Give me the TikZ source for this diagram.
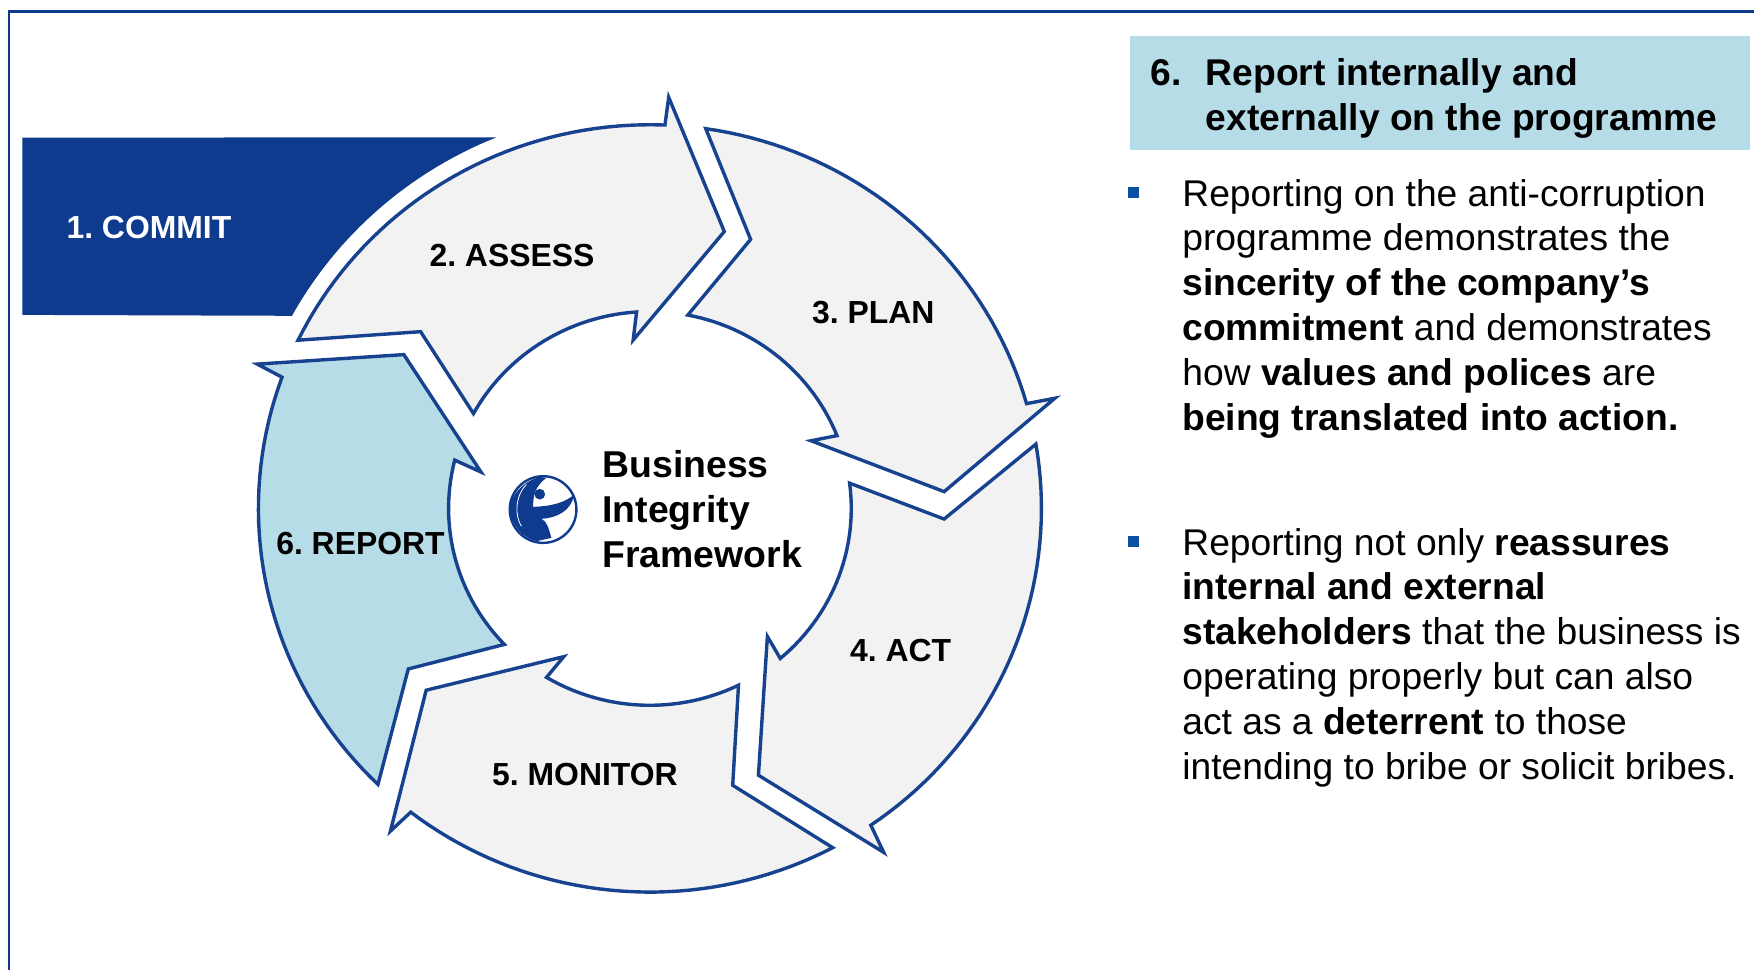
\documentclass[tikz,border=0pt]{standalone}
\usepackage{fontspec}
\setmainfont{Liberation Sans}
\definecolor{navy}{HTML}{0E3B8E}
\definecolor{edgeblue}{HTML}{17428F}
\definecolor{lightgrey}{HTML}{F2F2F2}
\definecolor{paleblue}{HTML}{B6DCE7}
\definecolor{bulletblue}{HTML}{0B4EA2}
\tikzset{
  arrowshape/.style={draw=edgeblue,line width=1.7pt,line join=miter,miter limit=12},
  greyarrow/.style={arrowshape,fill=lightgrey},
  bluearrow/.style={arrowshape,fill=paleblue},
  lab/.style={anchor=base west,inner sep=0pt,outer sep=0pt,font=\fontsize{15.95}{18}\selectfont\bfseries},
  bigbold/.style={anchor=base west,inner sep=0pt,outer sep=0pt,font=\fontsize{18.7}{22}\selectfont\bfseries},
  headbold/.style={anchor=base west,inner sep=0pt,outer sep=0pt,font=\fontsize{18.62}{22}\selectfont\bfseries},
  bodyline/.style={anchor=base west,inner sep=0pt,outer sep=0pt,font=\fontsize{18.6}{22}\selectfont},
}
\begin{document}
\frenchspacing
\begin{tikzpicture}[x=0.55931pt,y=-0.55931pt]
\useasboundingbox (0,0) rectangle (1568,867.2);
% frame
\draw[navy,line width=1.4pt] (8,867.2) -- (8,10) -- (1568,10);
% commit block
\fill[navy] (20,123) -- plot[domain=247.9:208.75,samples=30] ({581+365*cos(\x)},{454.5+358*sin(\x)}) -- (20,281.5) -- cycle;
% arrows
\path[greyarrow] plot[domain=206:272.2,samples=40] ({581+350*cos(\x)},{454.5+343*sin(\x)}) -- (597.8,87) -- (647.5,207) -- (566,304) -- plot[domain=266.2:208.8,samples=30] ({581+180*cos(\x)},{454.5+176*sin(\x)}) -- (376,296.5) -- cycle;
\path[greyarrow] plot[domain=278.2:344.15,samples=40] ({581+350*cos(\x)},{454.5+343*sin(\x)}) -- (943,356) -- (844,439.5) -- (725,394) -- plot[domain=338.3:280.85,samples=30] ({581+180*cos(\x)},{454.5+176*sin(\x)}) -- (671,214) -- cycle;
\path[greyarrow] plot[domain=-9.65:55.65,samples=40] ({581+350*cos(\x)},{454.5+343*sin(\x)}) -- (790,762) -- (678,693) -- (686,569) -- plot[domain=49.65:-7.37,samples=30] ({581+180*cos(\x)},{454.5+176*sin(\x)}) -- (844,464) -- cycle;
\path[greyarrow] plot[domain=62.16:127.66,samples=40] ({581+350*cos(\x)},{454.5+343*sin(\x)}) -- (349,743) -- (381,617) -- (504,587) -- plot[domain=120.9:63.9,samples=30] ({581+180*cos(\x)},{454.5+176*sin(\x)}) -- (655,702) -- cycle;
\path[bluearrow] plot[domain=134:200,samples=40] ({581+350*cos(\x)},{454.5+343*sin(\x)}) -- (230,325.5) -- (361,317) -- (430,422) -- plot[domain=194.2:136.3,samples=30] ({581+180*cos(\x)},{454.5+176*sin(\x)}) -- (365,598) -- cycle;
% labels
\node[lab,text=white] (commit) at (59.5,213) {1. COMMIT};
\node[lab] (assess) at (384,238) {2. ASSESS};
\node[lab] (plan) at (726,289) {3. PLAN};
\node[lab] (act) at (760,591) {4. ACT};
\node[lab] (monitor) at (440,702) {5. MONITOR};
\node[lab] (report) at (247,496) {6. REPORT};
\node[bigbold] (bif1) at (538.5,427) {Business};
\node[bigbold] (bif2) at (538.5,467.5) {Integrity};
\node[bigbold] (bif3) at (538.5,507.5) {Framework};
% logo
\begin{scope}[shift={(485.5,455.5)},scale=0.298]
\fill[navy] (-10,-98) .. controls (-60,-85) and (-100,-40) .. (-100,0) .. controls (-95,50) and (-60,85) .. (-20,95) -- (25,85) .. controls (15,50) and (10,35) .. (-5,28) .. controls (40,25) and (85,5) .. (93,-45) .. controls (65,-20) and (25,-10) .. (-30,-8) .. controls (-30,-40) and (-25,-70) .. (10,-95) -- cycle;
\draw[navy,line width=1.2pt] (0,0) circle (100);
\draw[white,line width=0.4pt] (-50,-75) .. controls (-85,-40) and (-85,20) .. (-65,50);
\fill[navy] (-10,-46) circle (16);
\end{scope}
% header
\fill[paleblue] (1010,32) rectangle (1564,134);
\node[headbold] (h0) at (1028.5,76) {6.};
\node[headbold] (h1) at (1078,76) {Report internally and};
\node[headbold] (h2) at (1078,116.5) {externally on the programme};
% bullets
\fill[bulletblue] (1008,167) rectangle (1018,177);
\fill[bulletblue] (1008,479) rectangle (1018,489);
% body
\node[bodyline] (a1) at (1057,184.7) {Reporting on the anti-corruption};
\node[bodyline] (a2) at (1057,224.1) {programme demonstrates the};
\node[bodyline] (a3) at (1057,264.1) {\textbf{sincerity of the company’s}};
\node[bodyline] (a4) at (1057,304.7) {\textbf{commitment} and demonstrates};
\node[bodyline] (a5) at (1057,344.7) {how \textbf{values and polices} are};
\node[bodyline] (a6) at (1057,384.7) {\textbf{being translated into action.}};
\node[bodyline] (b1) at (1057,496.7) {Reporting not only \textbf{reassures}};
\node[bodyline] (b2) at (1057,536.1) {\textbf{internal and external}};
\node[bodyline] (b3) at (1057,576.1) {\textbf{stakeholders} that the business is};
\node[bodyline] (b4) at (1057,616.7) {operating properly but can also};
\node[bodyline] (b5) at (1057,656.7) {act as a \textbf{deterrent} to those};
\node[bodyline] (b6) at (1057,696.7) {intending to bribe or solicit bribes.};
\end{tikzpicture}
\end{document}
